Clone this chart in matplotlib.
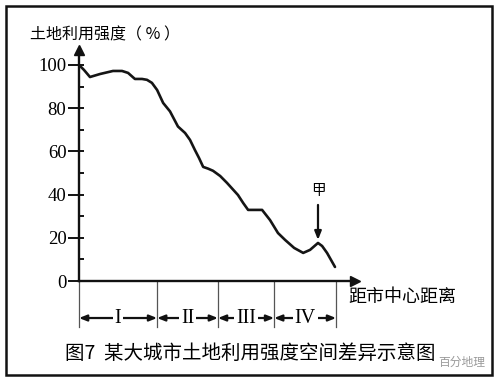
import matplotlib
matplotlib.use("Agg")
import matplotlib.pyplot as plt
from matplotlib.ticker import MultipleLocator
from matplotlib.patches import Rectangle

# ---- data ----
distance = [0, 1.8, 4.0, 7.7, 12.4, 15.7, 17.9, 20.4, 23.0, 24.8, 26.6, 28.5,
            30.7, 33.2, 36.1, 38.7, 40.5, 42.3, 43.8, 45.3, 47.1, 48.9, 51.5,
            54.0, 58.0, 59.9, 61.7, 64.2, 66.8, 69.7, 72.6, 75.2, 78.5, 81.8,
            84.3, 87.2, 88.7, 90.5, 93.4]
intensity = [100, 97.7, 94.4, 95.8, 97.2, 97.2, 96.3, 93.5, 93.5, 93.1, 91.7, 88.4,
             82.4, 78.5, 71.5, 68.5, 65.3, 60.6, 56.9, 52.8, 52.0, 51.0, 48.6,
             45.4, 39.8, 36.1, 32.9, 32.9, 32.9, 28.2, 22.2, 19.0, 15.3, 13.0,
             14.4, 17.6, 16.2, 13.0, 6.5]
zone_bounds = [0, 28.5, 50.7, 71.2, 93.8]
zone_labels = ["I", "II", "III", "IV"]
y_ticks = [0, 20, 40, 60, 80, 100]
peak_x, peak_y = 87.2, 17.5

W, H = 499, 383
fig = plt.figure(figsize=(W / 100, H / 100), dpi=100)
fig.patch.set_facecolor("white")

ax = fig.add_axes([79 / W, (H - 281) / H, (355 - 79) / W, (281 - 50) / H])
ax.set_xlim(0, 100.7)
ax.set_ylim(0, 106.9)
ax.patch.set_alpha(0)

ax.plot(distance, intensity, color="#151515", lw=1.9, solid_joinstyle="round",
        solid_capstyle="round")

for s in ["top", "right"]:
    ax.spines[s].set_visible(False)
for s in ["left", "bottom"]:
    ax.spines[s].set_linewidth(1.7)
    ax.spines[s].set_color("#111111")

# arrow heads of the axes
ax.plot(1, 0, ">", color="#111111", ms=7, transform=ax.transAxes, clip_on=False)
ax.plot(0, 1, "^", color="#111111", ms=7, transform=ax.transAxes, clip_on=False)

serif = "Liberation Serif"
ax.set_yticks(y_ticks)
ax.set_yticklabels([str(v) for v in y_ticks], fontfamily=serif, fontsize=13.5)
ax.yaxis.set_minor_locator(MultipleLocator(10))
ax.yaxis.remove_overlapping_locs = False
ax.tick_params(axis="y", which="major", direction="out", length=8, width=1.3, pad=1)
ax.tick_params(axis="y", which="minor", direction="in", length=3.5, width=1.3)
ax.set_xticks([])

# zone dividers and arrows below the axis
y_div = (281 - 327) / 2.16
y_arr = (281 - 318) / 2.16
for b in zone_bounds:
    ax.plot([b, b], [0, y_div], color="#555555", lw=0.9, clip_on=False)
for i, lab in enumerate(zone_labels):
    a, b = zone_bounds[i], zone_bounds[i + 1]
    ax.annotate("", xy=(b, y_arr), xytext=(a, y_arr), annotation_clip=False,
                arrowprops=dict(arrowstyle="<|-|>,head_length=0.45,head_width=0.18",
                                color="#111111", lw=1.6, shrinkA=0, shrinkB=0))
    ax.text((a + b) / 2, y_arr, lab, ha="center", va="center", fontfamily=serif,
            fontsize=14.5, clip_on=False,
            bbox=dict(facecolor="white", edgecolor="none", pad=1.5))

# 甲 marker
cjk = ["Noto Sans CJK SC", "DejaVu Sans"]
ax.annotate("", xy=(peak_x, 19.0), xytext=(peak_x, 35.2),
            arrowprops=dict(arrowstyle="-|>,head_length=0.5,head_width=0.2",
                            color="#111111", lw=1.6, shrinkA=0, shrinkB=0))
ax.text(peak_x, 41.7, "甲", ha="center", va="center", fontfamily=cjk, fontsize=10.5)

# texts
fig.text(30 / W, 1 - 35 / H, "土地利用强度（ % ）", ha="left", va="center",
         fontfamily=cjk, fontsize=11.5)
fig.text(348 / W, 1 - 297 / H, "距市中心距离", ha="left", va="center",
         fontfamily=cjk, fontsize=13)
fig.text(250 / W, 1 - 353 / H, "图7  某大城市土地利用强度空间差异示意图", ha="center",
         va="center", fontfamily=cjk, fontsize=14)
fig.text(462 / W, 1 - 362 / H, "百分地理", ha="center", va="center",
         fontfamily=cjk, fontsize=8.5, color="#9a9a9a")

# outer frame
fig.patches.append(Rectangle((6 / W, 1 - 375 / H), (492 - 6) / W, (375 - 6) / H,
                             transform=fig.transFigure, fill=False,
                             edgecolor="#111111", lw=1.8))

fig.savefig("out.png", dpi=100)
